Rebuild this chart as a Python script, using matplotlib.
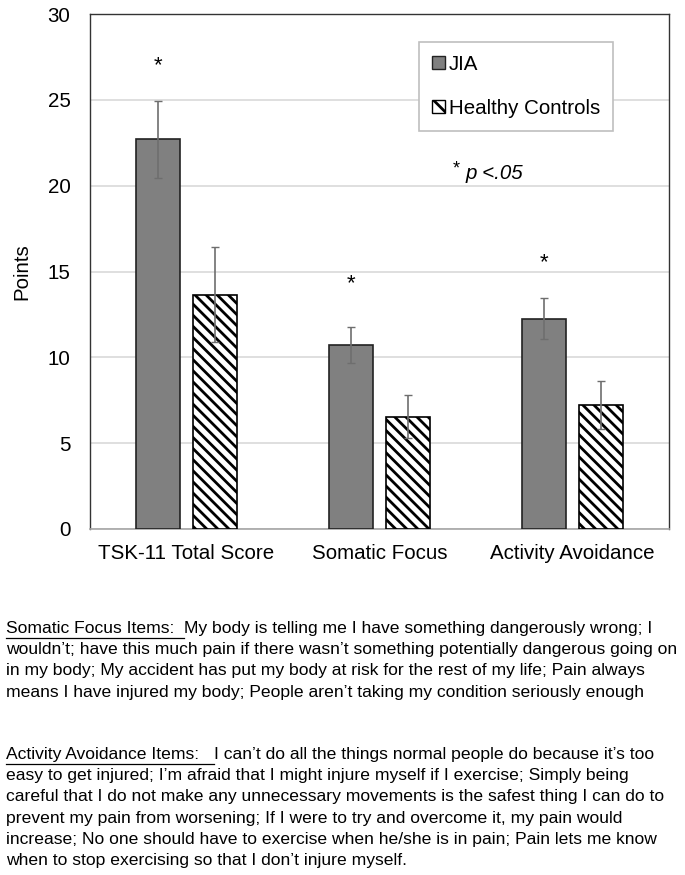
import matplotlib
matplotlib.use("Agg")
import matplotlib.pyplot as plt
from matplotlib.patches import Patch
from matplotlib import font_manager

categories = ["TSK-11 Total Score", "Somatic Focus", "Activity Avoidance"]
jia_means = [22.7, 10.7, 12.25]
jia_err = [2.25, 1.05, 1.2]
hc_means = [13.65, 6.55, 7.25]
hc_err = [2.75, 1.25, 1.4]
star_y = [27.0, 14.3, 15.5]

somatic_lines = [
    "My body is telling me I have something dangerously wrong; I",
    "wouldn\u2019t; have this much pain if there wasn\u2019t something potentially dangerous going on",
    "in my body; My accident has put my body at risk for the rest of my life; Pain always",
    "means I have injured my body; People aren\u2019t taking my condition seriously enough",
]
activity_lines = [
    "I can\u2019t do all the things normal people do because it\u2019s too",
    "easy to get injured; I\u2019m afraid that I might injure myself if I exercise; Simply being",
    "careful that I do not make any unnecessary movements is the safest thing I can do to",
    "prevent my pain from worsening; If I were to try and overcome it, my pain would",
    "increase; No one should have to exercise when he/she is in pain; Pain lets me know",
    "when to stop exercising so that I don\u2019t injure myself.",
]

names = {f.name for f in font_manager.fontManager.ttflist}
main_font = "Liberation Sans" if "Liberation Sans" in names else "DejaVu Sans"
plt.rcParams["font.family"] = [main_font, "DejaVu Sans"]
plt.rcParams["hatch.linewidth"] = 2.0

W, H = 685, 875
fs = 14.8
fig = plt.figure(figsize=(W / 100, H / 100), dpi=100)
ax = fig.add_axes([90 / W, 1 - 529 / H, 579 / W, 515 / H])

x = range(len(categories))
bw = 0.228
off = 0.146
xj = [i - off for i in x]
xh = [i + off for i in x]
ax.bar(xj, jia_means, bw, color="#808080", edgecolor="#222222", linewidth=1.2, zorder=3)
ax.bar(xh, hc_means, bw, color="white", edgecolor="black", hatch="\\\\\\", linewidth=1.2, zorder=3)
ax.errorbar(xj, jia_means, yerr=jia_err, fmt="none", ecolor="#6e6e6e", elinewidth=1.2, capsize=3, capthick=1, zorder=4)
ax.errorbar(xh, hc_means, yerr=hc_err, fmt="none", ecolor="#6e6e6e", elinewidth=1.2, capsize=3, capthick=1, zorder=4)

for xs, ys in zip(xj, star_y):
    ax.text(xs, ys, "*", ha="center", va="center", fontsize=16)

ax.set_xlim(-0.5, 2.5)
ax.set_ylim(0, 30)
ax.set_yticks([0, 5, 10, 15, 20, 25, 30])
ax.set_xticks(list(x))
ax.set_xticklabels(categories, fontsize=fs)
ax.tick_params(axis="y", labelsize=fs, length=0, pad=14)
ax.tick_params(axis="x", length=0, pad=11)
ax.yaxis.grid(True, color="#d9d9d9", linewidth=1.2, zorder=0)
ax.set_axisbelow(True)
for s in ["top", "right", "left"]:
    ax.spines[s].set_color("#333333")
    ax.spines[s].set_linewidth(1.0)
ax.spines["bottom"].set_color("#a6a6a6")
ax.spines["bottom"].set_linewidth(1.2)
ax.set_ylabel("Points", fontsize=fs, labelpad=12)

handles = [Patch(facecolor="#808080", edgecolor="#222222", label="JIA"),
           Patch(facecolor="white", edgecolor="black", hatch="\\\\", label="Healthy Controls")]
leg = ax.legend(handles=handles, loc="upper left", bbox_to_anchor=(0.568, 0.946),
                borderaxespad=0, fontsize=fs, handlelength=0.6, handleheight=0.6,
                handletextpad=0.2, labelspacing=1.2, borderpad=0.65, fancybox=False,
                edgecolor="#bfbfbf", framealpha=1)
leg.get_frame().set_linewidth(1.2)

ax.text(0.627, 0.70, "*", transform=ax.transAxes, fontsize=13, ha="left", va="center")
ax.text(0.648, 0.691, "p <.05", transform=ax.transAxes, fontsize=fs, style="italic", ha="left", va="center")

# footnotes with underlined headings
fig.canvas.draw()
r = fig.canvas.get_renderer()

def paragraph(head, lines, y0):
    nfs = 12.6
    t = fig.text(6 / W, 1 - y0 / H, head, fontsize=nfs, va="baseline", ha="left")
    bb = t.get_window_extent(r)
    fig.add_artist(plt.Line2D([bb.x0 / W, bb.x1 / W], [bb.y0 / H - 2 / H, bb.y0 / H - 2 / H],
                              color="black", linewidth=0.9, transform=fig.transFigure))
    fig.text(bb.x1 / W, 1 - y0 / H, lines[0], fontsize=nfs, va="baseline", ha="left")
    for k, ln in enumerate(lines[1:], start=1):
        fig.text(6 / W, 1 - (y0 + 21.2 * k) / H, ln, fontsize=nfs, va="baseline", ha="left")

paragraph("Somatic Focus Items:  ", somatic_lines, 633)
paragraph("Activity Avoidance Items:   ", activity_lines, 759)

fig.savefig("out.png", dpi=100)
